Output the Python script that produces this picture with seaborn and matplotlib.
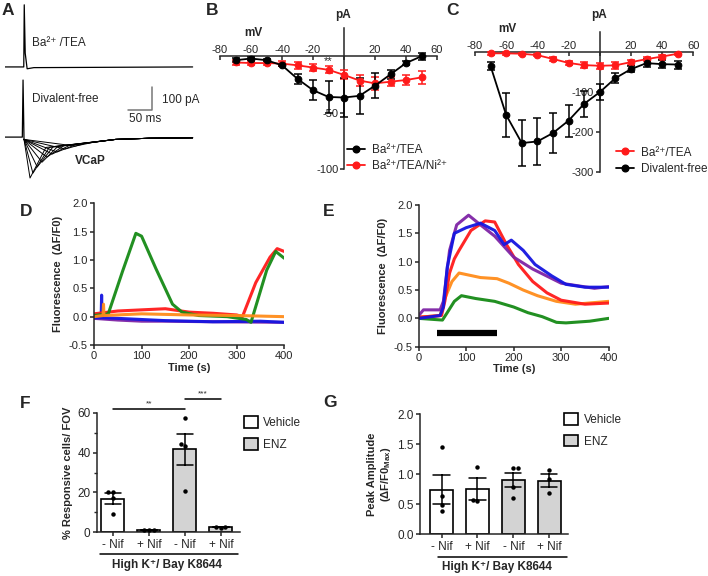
import numpy as np
import pandas as pd
import matplotlib
matplotlib.use("Agg")
import matplotlib.pyplot as plt
import seaborn as sns
from matplotlib.lines import Line2D
from matplotlib.patches import Patch
from matplotlib.ticker import AutoMinorLocator

# ---------------- data ----------------
# A: whole-cell current traces (ms, pA)
ba_t = [0, 39, 40, 42, 46, 60, 390]
ba_i = [0, 0, 270, 60, -8, -3, 0]
ba_offset = 305
spike_t = [0, 36, 37.5, 39.5]
spike_i = [0, 0, 248, -10]
peak_t = [52, 58, 67, 77, 87, 98, 108, 125, 146]
peak_i = [-178, -157, -130, -109, -87, -74, -65, -52, -39]
mid_t = [85, 92, 100, 110, 122, 135, 148, 165, 185]
mid_i = [-45, -45, -42, -40, -38, -35, -32, -28, -22]
tail_t = [230, 300, 390]
tail_i = [-10, -5, -3]

# B / C: I-V curves
mv = [-70, -60, -50, -40, -30, -20, -10, 0, 10, 20, 30, 40, 50]
b_ba = [-3.5, -2, -3.5, -8, -20, -30, -36, -36.5, -35, -26, -16, -6, 0]
b_ba_err = [2, 1, 1, 1, 4.5, 9, 14, 17, 16, 11, 4, 2, 3]
b_ni = [-5.5, -6, -6, -6.5, -8, -10, -12, -16.5, -21.5, -24, -22.5, -21, -18.7]
b_ni_err = [2, 2, 2, 2, 3, 3, 3, 4, 5, 6, 4, 4, 6]
c_ba = [-3, -3, -4, -7.5, -17, -27, -32.5, -34, -33, -25, -17.5, -11, -4]
c_ba_err = [3, 3, 3, 3, 4, 5, 8, 8, 8, 6, 5, 5, 3]
c_df = [-35, -157, -227, -223, -202, -171, -129, -100, -65, -42.5, -27.5, -30, -31]
c_df_err = [10, 54, 57, 58, 49, 40, 33, 20, 12, 7, 10, 10, 10]

# D: calcium traces, vehicle (time s, dF/F0)
d_traces = {
    "purple": ([0, 50, 100, 150, 250, 400], [-0.03, -0.06, -0.08, -0.08, -0.09, -0.1]),
    "blue": ([0, 15, 16, 17, 50, 150, 250, 350, 400],
             [-0.02, -0.02, 0.38, -0.02, -0.03, -0.07, -0.09, -0.08, -0.1]),
    "red": ([0, 50, 100, 150, 200, 250, 300, 312, 340, 370, 385, 400],
            [0.05, 0.1, 0.12, 0.14, 0.08, 0.06, 0.03, 0.0, 0.6, 1.05, 1.2, 1.15]),
    "green": ([0, 30, 60, 88, 100, 130, 165, 185, 220, 280, 320, 330, 363, 382, 400],
              [0.02, 0.05, 0.8, 1.47, 1.42, 0.85, 0.22, 0.08, 0.02, 0.0, -0.05, -0.1, 0.82, 1.15, 1.03]),
    "orange": ([0, 19, 20, 21, 100, 200, 300, 400], [0.0, 0.02, 0.22, 0.02, 0.05, 0.03, 0.02, 0.0]),
}
# E: calcium traces, ENZ
e_traces = {
    "purple": ([0, 10, 45, 52, 65, 80, 105, 130, 160, 200, 240, 300, 370, 400],
               [0.05, 0.15, 0.15, 0.3, 1.2, 1.65, 1.82, 1.65, 1.45, 1.08, 0.87, 0.62, 0.53, 0.56]),
    "blue": ([0, 45, 52, 60, 75, 100, 130, 160, 180, 195, 220, 245, 280, 310, 350, 400],
             [0.0, 0.05, 0.2, 0.9, 1.5, 1.6, 1.68, 1.55, 1.3, 1.38, 1.2, 0.95, 0.75, 0.6, 0.55, 0.55]),
    "red": ([0, 48, 55, 65, 75, 85, 110, 140, 160, 185, 210, 240, 270, 300, 350, 400],
            [0.02, 0.05, 0.3, 0.8, 1.05, 1.2, 1.55, 1.72, 1.7, 1.3, 0.95, 0.65, 0.45, 0.32, 0.25, 0.27]),
    "orange": ([0, 45, 55, 70, 85, 130, 165, 190, 220, 250, 290, 330, 400],
               [0.02, 0.05, 0.35, 0.65, 0.8, 0.72, 0.7, 0.62, 0.5, 0.4, 0.3, 0.25, 0.3]),
    "green": ([0, 50, 60, 75, 90, 120, 160, 200, 230, 260, 290, 310, 360, 400],
              [0.0, -0.03, 0.1, 0.3, 0.4, 0.35, 0.3, 0.2, 0.1, 0.03, -0.07, -0.08, -0.05, 0.0]),
}
stim_window = [38, 165]

# F / G: per-FOV points
conds = ["veh_minus", "veh_plus", "enz_minus", "enz_plus"]
cond_labels = ["- Nif", "+ Nif", "- Nif", "+ Nif"]
f_points = {
    "veh_minus": [20.4, 20.4, 17.4, 9.2],
    "veh_plus": [1.0, 1.2, 1.3],
    "enz_minus": [57.5, 44.3, 43.5, 20.9],
    "enz_plus": [2.3, 2.6, 2.8],
}
g_points = {
    "veh_minus": [1.45, 0.63, 0.49, 0.39],
    "veh_plus": [1.13, 0.56, 0.58],
    "enz_minus": [1.11, 1.11, 0.61, 0.79],
    "enz_plus": [1.07, 0.92, 0.69],
}

# ---------------- style ----------------
sns.set_style("ticks")
plt.rcParams["font.family"] = ["Liberation Sans", "DejaVu Sans"]
plt.rcParams["axes.unicode_minus"] = False
plt.rcParams["axes.linewidth"] = 1.1
plt.rcParams["xtick.major.width"] = 1.1
plt.rcParams["ytick.major.width"] = 1.1

trace_colors = {"purple": "#7f24a6", "blue": "#1515e0", "red": "#ff1a1a",
                "green": "#168a16", "orange": "#ff8c1a"}
bar_colors = {"veh_minus": "white", "veh_plus": "white",
              "enz_minus": "#d3d3d3", "enz_plus": "#d3d3d3"}

W, H = 708, 576
fig = plt.figure(figsize=(W / 100, H / 100), dpi=100)


def box(x0, y0, x1, y1):
    """pixel box -> figure fraction rect"""
    return [x0 / W, 1 - y1 / H, (x1 - x0) / W, (y1 - y0) / H]


def ftext(x, y, s, **kw):
    fig.text(x / W, 1 - y / H, s, **kw)


# ---------------- A ----------------
ax_a = fig.add_axes(box(5, 0, 196, 190))
sns.lineplot(x=ba_t, y=np.array(ba_i) + ba_offset, ax=ax_a, color="black",
             lw=0.9, estimator=None, sort=False)
sns.lineplot(x=spike_t, y=spike_i, ax=ax_a, color="black", lw=0.9,
             estimator=None, sort=False)
for k in range(len(peak_t)):
    tt = [spike_t[-1], peak_t[k], mid_t[k]] + tail_t
    ii = [spike_i[-1], peak_i[k], mid_i[k]] + tail_i
    sns.lineplot(x=tt, y=ii, ax=ax_a, color="black", lw=0.7,
                 estimator=None, sort=False)
# scale bar
ax_a.plot([256, 306, 306], [117, 117, 217], color="#777777", lw=1.1)
ax_a.text(327, 161, "100 pA", fontsize=8.5, va="center")
ax_a.text(258, 78, "50 ms", fontsize=8.5, va="center")
ax_a.text(56, 409, "Ba²⁺ /TEA", fontsize=8.5, va="center")
ax_a.text(56, 165, "Divalent-free", fontsize=8.5, va="center")
ax_a.text(177, -102, "VCaP", fontsize=8.5, fontweight="bold", ha="center", va="center")
ax_a.set_xlim(0, 397)
ax_a.set_ylim(-230, 596)
ax_a.axis("off")


# ---------------- B / C ----------------
def iv_axes(ax, ylo, yhi, yticks):
    ax.set_xlim(-80, 60)
    ax.set_ylim(ylo, yhi)
    ax.spines["top"].set_position(("data", 0))
    ax.spines["left"].set_position(("data", 0))
    ax.spines["bottom"].set_visible(False)
    ax.spines["right"].set_visible(False)
    ax.xaxis.tick_top()
    ax.set_xticks([-80, -60, -40, -20, 0, 20, 40, 60])
    ax.set_xticklabels(["-80", "-60", "-40", "-20", "", "20", "40", "60"])
    ax.set_yticks(yticks)
    ax.set_yticklabels([str(v) for v in yticks])
    ax.tick_params(axis="x", direction="in", length=3, pad=1, labelsize=8)
    ax.tick_params(axis="y", direction="out", length=3, pad=1, labelsize=8)
    ax.set_xlabel("")
    ax.set_ylabel("")


def iv_series(ax, y, err, color):
    ax.errorbar(mv, y, yerr=err, fmt="none", ecolor=color, elinewidth=1.1,
                capsize=2.6, capthick=1.1, zorder=3)
    sns.lineplot(x=mv, y=y, ax=ax, color=color, lw=1.3, marker="o",
                 markersize=4.8, markeredgecolor=color, zorder=4)


ax_b = fig.add_axes(box(220, 28, 437, 169.3))
iv_series(ax_b, b_ni, b_ni_err, "#ff1a1a")
iv_series(ax_b, b_ba, b_ba_err, "black")
iv_axes(ax_b, -100, 25, [-100, -50])
ax_b.text(-10, -4, "**", fontsize=8, ha="center", va="center")
ax_b.legend(handles=[
    Line2D([], [], color="black", marker="o", markersize=4.8, lw=1.3, label="Ba²⁺/TEA"),
    Line2D([], [], color="#ff1a1a", marker="o", markersize=4.8, lw=1.3, label="Ba²⁺/TEA/Ni²⁺")],
    loc="upper left", bbox_to_anchor=(0.56, 0.22), frameon=False, fontsize=8.5,
    handlelength=1.5, handletextpad=0.6, labelspacing=0.35, borderpad=0)

ax_c = fig.add_axes(box(475, 31.7, 693.3, 172.3))
iv_series(ax_c, c_ba, c_ba_err, "#ff1a1a")
iv_series(ax_c, c_df, c_df_err, "black")
iv_axes(ax_c, -300, 51, [-300, -200, -100])
ax_c.legend(handles=[
    Line2D([], [], color="#ff1a1a", marker="o", markersize=4.8, lw=1.3, label="Ba²⁺/TEA"),
    Line2D([], [], color="black", marker="o", markersize=4.8, lw=1.3, label="Divalent-free")],
    loc="upper left", bbox_to_anchor=(0.62, 0.225), frameon=False, fontsize=8.5,
    handlelength=1.5, handletextpad=0.6, labelspacing=0.35, borderpad=0)

for x_pa, x_mv, y_mv in [(343, 253, 33), (599, 507, 29)]:
    ftext(x_pa, 15, "pA", fontsize=8.5, fontweight="bold", ha="center", va="center")
    ftext(x_mv, y_mv, "mV", fontsize=8.5, fontweight="bold", ha="center", va="center")


# ---------------- D / E ----------------
def trace_axes(ax, traces, order):
    for name in order:
        t, v = traces[name]
        sns.lineplot(x=t, y=v, ax=ax, color=trace_colors[name], lw=2.2,
                     estimator=None, sort=False, alpha=0.95)
    ax.set_xlim(0, 400)
    ax.set_ylim(-0.5, 2.0)
    ax.set_xticks([0, 100, 200, 300, 400])
    ax.set_yticks([-0.5, 0.0, 0.5, 1.0, 1.5, 2.0])
    ax.set_yticklabels(["-0.5", "0.0", "0.5", "1.0", "1.5", "2.0"])
    ax.tick_params(length=3, pad=1.5, labelsize=8)
    ax.set_xlabel("Time (s)", fontsize=8, fontweight="bold", labelpad=1)
    ax.set_ylabel("Fluorescence  (\u0394F/F0)", fontsize=8, fontweight="bold", labelpad=4)
    sns.despine(ax=ax)


ax_d = fig.add_axes(box(94, 203.3, 284.3, 345))
trace_axes(ax_d, d_traces, ["purple", "blue", "red", "green", "orange"])

ax_e = fig.add_axes(box(418.7, 205, 608.7, 346.7))
trace_axes(ax_e, e_traces, ["green", "orange", "red", "purple", "blue"])
ax_e.plot(stim_window, [-0.25, -0.25], color="black", lw=4.5, solid_capstyle="butt")


# ---------------- F / G ----------------
def long_form(points):
    rows = [(c, v) for c in conds for v in points[c]]
    return pd.DataFrame(rows, columns=["cond", "value"])


def bar_axes(ax, points, ylabel):
    df = long_form(points)
    sns.barplot(data=df, x="cond", y="value", order=conds, hue="cond",
                palette=bar_colors, legend=False, errorbar="se", capsize=0.45,
                err_kws={"color": "black", "linewidth": 1.1},
                edgecolor="black", linewidth=1.2, width=0.64, ax=ax)
    sns.swarmplot(data=df, x="cond", y="value", order=conds, color="black",
                  size=3.2, ax=ax)
    ax.set_xticks(range(len(conds)))
    ax.set_xticklabels(cond_labels)
    ax.tick_params(length=3, pad=1.5, labelsize=8.5)
    ax.set_xlabel("")
    ax.set_ylabel(ylabel, fontsize=8, fontweight="bold", labelpad=3)
    sns.despine(ax=ax)
    ax.legend(handles=[Patch(facecolor="white", edgecolor="black", lw=1.2, label="Vehicle"),
                       Patch(facecolor="#d3d3d3", edgecolor="black", lw=1.2, label="ENZ")],
              frameon=False, fontsize=8.5, handlelength=1.2, handleheight=1.15,
              handletextpad=0.45, labelspacing=0.75, borderpad=0,
              loc="upper left", bbox_to_anchor=(0.99, 1.03))


ax_f = fig.add_axes(box(96.7, 412.7, 240, 532.3))
bar_axes(ax_f, f_points, "% Responsive cells/ FOV")
ax_f.set_xlim(-0.45, 3.53)
ax_f.set_ylim(0, 60)
ax_f.set_yticks([0, 20, 40, 60])
ax_f.yaxis.set_minor_locator(AutoMinorLocator(2))
ax_f.tick_params(which="minor", length=2, width=1)
ax_f.get_legend().set_bbox_to_anchor((0.985, 1.02))
for (x0, x1, y, s) in [(0, 2, 61.9, "**"), (2, 3, 66.9, "***")]:
    ax_f.plot([x0, x1], [y, y], color="black", lw=1.1, clip_on=False)
    ax_f.text((x0 + x1) / 2, y + 0.8, s, fontsize=6, ha="center", va="bottom")
ax_f.plot([0.023, 0.986], [-0.181, -0.181], color="black", lw=1.1,
          transform=ax_f.transAxes, clip_on=False)
ax_f.text(0.49, -0.272, "High K⁺/ Bay K8644", transform=ax_f.transAxes,
          fontsize=8.5, fontweight="bold", ha="center", va="center")

ax_g = fig.add_axes(box(420, 414.3, 568, 534.3))
bar_axes(ax_g, g_points, "Peak Amplitude\n(\u0394F/F0$_{\\mathregular{Max}}$)")
ax_g.set_xlim(-0.6, 3.52)
ax_g.set_ylim(0, 2.0)
ax_g.set_yticks([0.0, 0.5, 1.0, 1.5, 2.0])
ax_g.set_yticklabels(["0.0", "0.5", "1.0", "1.5", "2.0"])
ax_g.get_legend().set_bbox_to_anchor((0.935, 1.06))
ax_g.plot([0.122, 0.993], [-0.189, -0.189], color="black", lw=1.1,
          transform=ax_g.transAxes, clip_on=False)
ax_g.text(0.52, -0.272, "High K⁺/ Bay K8644", transform=ax_g.transAxes,
          fontsize=8.5, fontweight="bold", ha="center", va="center")

# panel letters
for letter, x, y in [("A", 2, 3), ("B", 206, 3), ("C", 446, 3), ("D", 20, 204),
                     ("E", 323, 204), ("F", 20, 396), ("G", 323, 395)]:
    ftext(x, y, letter, fontsize=12.5, fontweight="bold", ha="left", va="top")

fig.savefig("out.png", dpi=100)
